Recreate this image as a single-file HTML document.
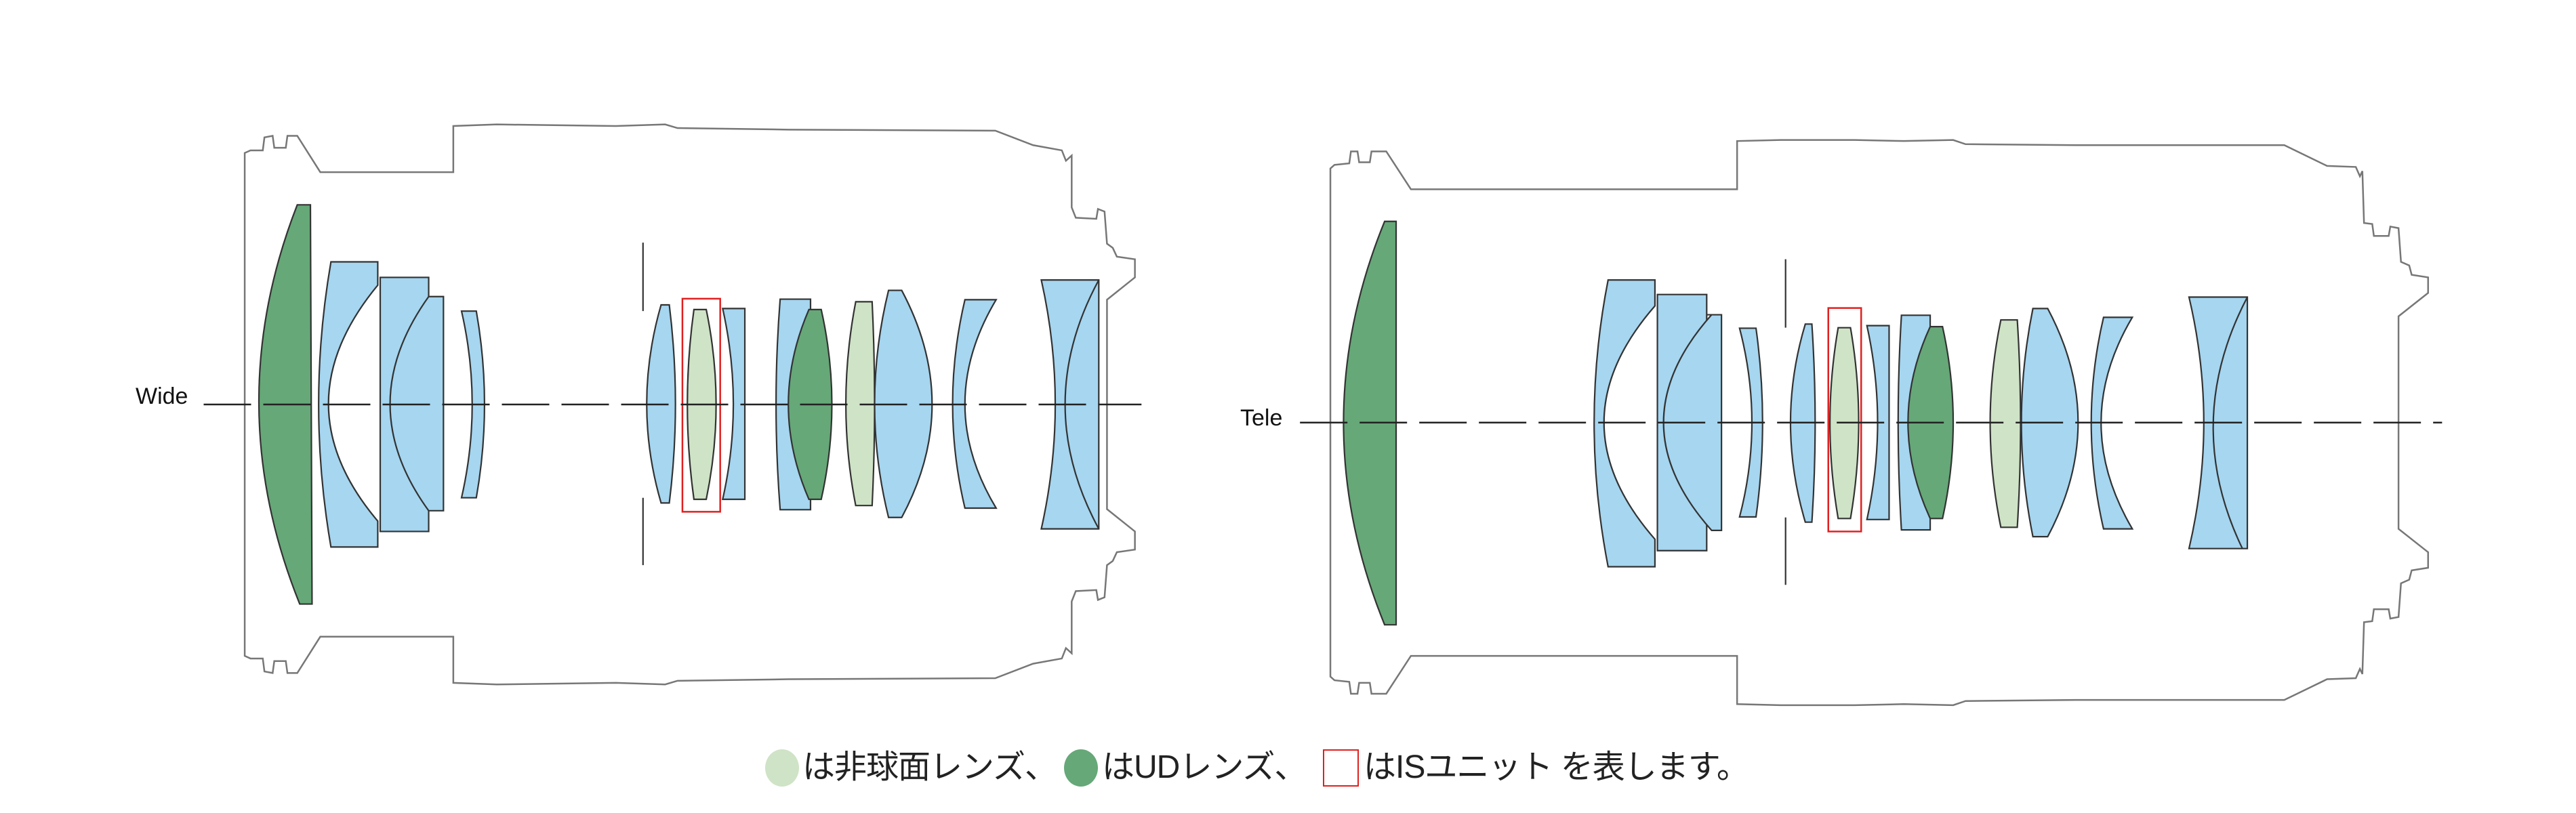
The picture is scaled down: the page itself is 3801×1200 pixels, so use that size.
<!DOCTYPE html>
<html><head><meta charset="utf-8"><style>
html,body{margin:0;padding:0;background:#fff}
body{width:3801px;height:1200px;position:relative;overflow:hidden}
svg{position:absolute;top:0}
.b{fill:none;stroke:#777;stroke-width:2.5}
.l{stroke:#333;stroke-width:2.2}
.bl{fill:#a6d6f0}
.g{fill:#66a878}
.lg{fill:#cfe3c6}
.t{position:absolute;font-family:"Liberation Sans","Noto Sans CJK JP",sans-serif;color:#111;white-space:nowrap}
.leg{position:absolute;top:1100px;font-family:"Liberation Sans","Noto Sans CJK JP",sans-serif;font-size:48px;line-height:66px;color:#222;white-space:nowrap;letter-spacing:-1px}
</style></head><body>

<svg style="left:0" width="1900" height="1200" viewBox="0 0 1568 1568" preserveAspectRatio="none">
<path class="b" vector-effect="non-scaling-stroke" d="M298,780 L298,295 L305,290 L320,290 L322,265 L332,262 L334,285 L348,285 L350,262 L362,262 L390,332 L552,332 L552,243 L605,240 L750,243 L810,240 L825,247 L960,250 L1212,252 L1258,280 L1293,290 L1298,310 L1305,300 L1305,400 L1310,420 L1335,422 L1337,403 L1345,408 L1348,470 L1355,478 L1360,495 L1382,500 L1382,535 L1348,578 L1348,780"/>
<path class="b" vector-effect="non-scaling-stroke" transform="translate(0,1560) scale(1,-1)" d="M298,780 L298,295 L305,290 L320,290 L322,265 L332,262 L334,285 L348,285 L350,262 L362,262 L390,332 L552,332 L552,243 L605,240 L750,243 L810,240 L825,247 L960,250 L1212,252 L1258,280 L1293,290 L1298,310 L1305,300 L1305,400 L1310,420 L1335,422 L1337,403 L1345,408 L1348,470 L1355,478 L1360,495 L1382,500 L1382,535 L1348,578 L1348,780"/>
<path class="g l" vector-effect="non-scaling-stroke" d="M362,395 L378,395 L380,1165 L365,1165 Q267,780 362,395Z"/>
<path class="bl l" vector-effect="non-scaling-stroke" d="M403,505 L460,505 L460,550 Q340,780 460,1005 L460,1055 L403,1055 Q373,780 403,505Z"/>
<path class="bl l" vector-effect="non-scaling-stroke" d="M463,535 L522,535 L522,1025 L463,1025Z"/>
<path class="bl l" vector-effect="non-scaling-stroke" d="M522,572 L540,572 L540,985 L522,985 Q428,780 522,572Z"/>
<path class="bl l" vector-effect="non-scaling-stroke" d="M562,600 L580,600 Q600,780 580,960 L562,960 Q588,780 562,600Z"/>
<path class="l" vector-effect="non-scaling-stroke" d="M783,468 L783,600 M783,960 L783,1090" fill="none"/>
<path class="bl l" vector-effect="non-scaling-stroke" d="M805,588 L815,588 Q830,780 815,970 L805,970 Q770,780 805,588Z"/>
<path class="lg l" vector-effect="non-scaling-stroke" d="M845,597 L860,597 Q884,780 860,963 L845,963 Q829,780 845,597Z"/>
<rect x="831" y="576" width="46" height="411" fill="none" stroke="#e02020" stroke-width="2.5" vector-effect="non-scaling-stroke"/>
<path class="bl l" vector-effect="non-scaling-stroke" d="M880,595 L907,595 L907,963 L880,963 Q906,780 880,595Z"/>
<path class="bl l" vector-effect="non-scaling-stroke" d="M950,577 L987,577 L987,983 L950,983 Q940,780 950,577Z"/>
<path class="g l" vector-effect="non-scaling-stroke" d="M985,597 L1000,597 Q1026,780 1000,963 L985,963 Q935,780 985,597Z"/>
<path class="lg l" vector-effect="non-scaling-stroke" d="M1042,582 L1062,582 Q1068,780 1062,975 L1042,975 Q1018,780 1042,582Z"/>
<path class="bl l" vector-effect="non-scaling-stroke" d="M1082,560 L1098,560 Q1172,780 1098,998 L1082,998 Q1048,780 1082,560Z"/>
<path class="bl l" vector-effect="non-scaling-stroke" d="M1175,578 L1213,578 Q1137,780 1213,980 L1175,980 Q1145,780 1175,578Z"/>
<path class="bl l" vector-effect="non-scaling-stroke" d="M1268,540 L1338,540 L1338,1020 L1268,1020 Q1302,780 1268,540Z"/>
<path class="l" fill="none" vector-effect="non-scaling-stroke" d="M1338,540 Q1256,780 1338,1020"/>
<line x1="248" y1="780" x2="1390" y2="780" stroke="#222" stroke-width="2.5" stroke-dasharray="70 18" vector-effect="non-scaling-stroke"/>
</svg>

<svg style="left:1900px" width="1901" height="1200" viewBox="0 0 1568 1568" preserveAspectRatio="none">
<path class="b" vector-effect="non-scaling-stroke" d="M52,815 L52,325 L57,318 L75,315 L77,292 L85,292 L87,313 L100,313 L102,292 L120,292 L150,365 L547,365 L547,272 L600,270 L690,270 L750,272 L810,270 L825,278 L960,280 L1213,280 L1265,320 L1300,322 L1305,340 L1308,330 L1310,430 L1320,432 L1322,455 L1340,455 L1342,437 L1352,440 L1355,505 L1365,512 L1368,530 L1388,535 L1388,565 L1352,610 L1352,815"/>
<path class="b" vector-effect="non-scaling-stroke" transform="translate(0,1630) scale(1,-1)" d="M52,815 L52,325 L57,318 L75,315 L77,292 L85,292 L87,313 L100,313 L102,292 L120,292 L150,365 L547,365 L547,272 L600,270 L690,270 L750,272 L810,270 L825,278 L960,280 L1213,280 L1265,320 L1300,322 L1305,340 L1308,330 L1310,430 L1320,432 L1322,455 L1340,455 L1342,437 L1352,440 L1355,505 L1365,512 L1368,530 L1388,535 L1388,565 L1352,610 L1352,815"/>
<path class="g l" vector-effect="non-scaling-stroke" d="M118,427 L132,427 L132,1205 L118,1205 Q18,815 118,427Z"/>
<path class="bl l" vector-effect="non-scaling-stroke" d="M390,540 L447,540 L447,590 Q323,815 447,1040 L447,1093 L390,1093 Q356,815 390,540Z"/>
<path class="bl l" vector-effect="non-scaling-stroke" d="M450,568 L510,568 L510,1062 L450,1062Z"/>
<path class="bl l" vector-effect="non-scaling-stroke" d="M510,607 L528,607 L528,1023 L516,1023 Q399,815 516,607Z"/>
<path class="bl l" vector-effect="non-scaling-stroke" d="M550,633 L570,633 Q586,815 570,997 L550,997 Q580,815 550,633Z"/>
<path class="l" fill="none" vector-effect="non-scaling-stroke" d="M606,500 L606,632 M606,998 L606,1128"/>
<path class="bl l" vector-effect="non-scaling-stroke" d="M630,625 L638,625 Q646,815 638,1007 L630,1007 Q594,815 630,625Z"/>
<path class="lg l" vector-effect="non-scaling-stroke" d="M670,632 L685,632 Q705,815 685,1000 L670,1000 Q650,815 670,632Z"/>
<rect x="658" y="594" width="40" height="431" fill="none" stroke="#e02020" stroke-width="2.5" vector-effect="non-scaling-stroke"/>
<path class="bl l" vector-effect="non-scaling-stroke" d="M705,628 L732,628 L732,1002 L705,1002 Q731,815 705,628Z"/>
<path class="bl l" vector-effect="non-scaling-stroke" d="M747,608 L782,608 L782,1022 L747,1022 Q739,815 747,608Z"/>
<path class="g l" vector-effect="non-scaling-stroke" d="M782,630 L797,630 Q823,815 797,1000 L782,1000 Q728,815 782,630Z"/>
<path class="lg l" vector-effect="non-scaling-stroke" d="M868,617 L888,617 Q896,815 888,1017 L868,1017 Q842,815 868,617Z"/>
<path class="bl l" vector-effect="non-scaling-stroke" d="M907,595 L925,595 Q999,815 925,1035 L907,1035 Q879,815 907,595Z"/>
<path class="bl l" vector-effect="non-scaling-stroke" d="M993,612 L1028,612 Q952,815 1028,1020 L993,1020 Q963,815 993,612Z"/>
<path class="bl l" vector-effect="non-scaling-stroke" d="M1097,573 L1168,573 L1168,1058 L1097,1058 Q1133,815 1097,573Z"/>
<path class="l" fill="none" vector-effect="non-scaling-stroke" d="M1168,573 Q1088,815 1162,1058"/>
<line x1="15" y1="815" x2="1405" y2="815" stroke="#222" stroke-width="2.5" stroke-dasharray="70 18" vector-effect="non-scaling-stroke"/>
</svg>

<div class="t" style="left:200px;top:566px;font-size:34px">Wide</div>
<div class="t" style="left:1830px;top:598px;font-size:34px">Tele</div>

<div style="position:absolute;left:1129px;top:1106px;width:50px;height:55px;border-radius:50%;background:#cfe3c6"></div>
<div class="leg" style="left:1184px">は非球面レンズ、</div>
<div style="position:absolute;left:1570px;top:1106px;width:50px;height:55px;border-radius:50%;background:#66a878"></div>
<div class="leg" style="left:1626px">はUDレンズ、</div>
<div style="position:absolute;left:1952px;top:1106px;width:53px;height:55px;border:2.5px solid #e02020;box-sizing:border-box"></div>
<div class="leg" style="left:2012px">はISユニット を表します。</div>
</body></html>
